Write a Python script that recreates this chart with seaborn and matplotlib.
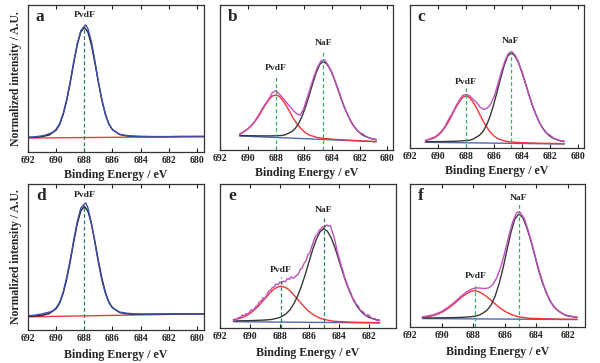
import matplotlib
matplotlib.use("Agg")
import matplotlib.pyplot as plt
import seaborn as sns

# ---------------- data (y in axes-height fraction) ----------------
TICKS = [692, 690, 688, 686, 684, 682, 680]

# panel a
A_FIT_X = [692, 691.5, 691, 690.5, 690, 689.75, 689.5, 689.25, 689, 688.75, 688.5, 688.25, 688,
           687.75, 687.5, 687.25, 687, 686.75, 686.5, 686.25, 686, 685.5, 685, 684.5, 684, 683,
           682, 681, 680, 679.5]
A_FIT_Y = [0.099, 0.100, 0.105, 0.115, 0.149, 0.187, 0.255, 0.351, 0.472, 0.606, 0.729, 0.817,
           0.848, 0.817, 0.730, 0.607, 0.474, 0.353, 0.257, 0.190, 0.152, 0.119, 0.110, 0.106,
           0.105, 0.104, 0.104, 0.105, 0.105, 0.105]
A_RAW_X = [692, 691.5, 691, 690.75, 690.5, 690.25, 690, 689.75, 689.5, 689.25, 689, 688.75, 688.5,
           688.25, 688, 687.9, 687.75, 687.5, 687.25, 687, 686.75, 686.5, 686.25, 686, 685.5, 685,
           684.5, 684, 683, 682, 681, 680, 679.5]
A_RAW_Y = [0.100, 0.103, 0.110, 0.115, 0.125, 0.133, 0.155, 0.192, 0.262, 0.358, 0.480, 0.615,
           0.738, 0.825, 0.855, 0.865, 0.840, 0.752, 0.620, 0.478, 0.350, 0.252, 0.186, 0.152,
           0.121, 0.112, 0.108, 0.106, 0.105, 0.105, 0.106, 0.106, 0.106]
A_BASE_X = [692, 679.5]
A_BASE_Y = [0.095, 0.105]

# panel d
D_FIT_X = A_FIT_X
D_FIT_Y = [0.094, 0.096, 0.101, 0.112, 0.146, 0.184, 0.252, 0.349, 0.470, 0.604, 0.727, 0.815,
           0.847, 0.816, 0.729, 0.607, 0.474, 0.353, 0.257, 0.190, 0.153, 0.120, 0.111, 0.108,
           0.108, 0.108, 0.109, 0.111, 0.111, 0.111]
D_RAW_X = A_RAW_X
D_RAW_Y = [0.097, 0.102, 0.110, 0.117, 0.122, 0.130, 0.152, 0.190, 0.260, 0.360, 0.480, 0.618,
           0.742, 0.835, 0.862, 0.870, 0.838, 0.735, 0.598, 0.460, 0.340, 0.250, 0.186, 0.152,
           0.123, 0.115, 0.111, 0.109, 0.109, 0.110, 0.111, 0.111, 0.111]
D_BASE_X = [692, 679.5]
D_BASE_Y = [0.090, 0.111]

# panel b
B_RED_X = [690.6, 690.25, 690, 689.75, 689.5, 689.25, 689, 688.75, 688.5, 688.25, 688, 687.75,
           687.5, 687.25, 687, 686.75, 686.5, 686.25, 686, 685.75, 685.5, 685, 684.5, 684, 683,
           682, 681, 680.8]
B_RED_Y = [0.110, 0.130, 0.145, 0.167, 0.195, 0.230, 0.271, 0.311, 0.346, 0.372, 0.380, 0.370,
           0.342, 0.306, 0.263, 0.219, 0.183, 0.153, 0.129, 0.111, 0.100, 0.085, 0.079, 0.075,
           0.069, 0.064, 0.059, 0.058]
B_BLK_X = [690.6, 689.6, 688.6, 688.1, 687.6, 687.35, 687.1, 686.85, 686.6, 686.35, 686.1, 685.85,
           685.6, 685.35, 685.1, 684.85, 684.6, 684.35, 684.1, 683.85, 683.6, 683.35, 683.1,
           682.85, 682.6, 682.35, 682.1, 681.85, 681.6, 681.1, 680.8]
B_BLK_Y = [0.100, 0.098, 0.097, 0.098, 0.100, 0.104, 0.115, 0.127, 0.150, 0.185, 0.237, 0.303,
           0.380, 0.460, 0.534, 0.591, 0.610, 0.594, 0.557, 0.500, 0.432, 0.363, 0.297, 0.243,
           0.193, 0.156, 0.128, 0.108, 0.094, 0.077, 0.071]
B_RAW_X = [690.6, 690.5, 690.25, 690, 689.75, 689.5, 689.25, 689, 688.75, 688.5, 688.25, 688,
           687.75, 687.5, 687.25, 687, 686.75, 686.5, 686.25, 686, 685.75, 685.5, 685.25, 685,
           684.75, 684.5, 684.25, 684, 683.75, 683.5, 683.25, 683, 682.75, 682.5, 682.25, 682,
           681.75, 681.5, 681.25, 681, 680.8]
B_RAW_Y = [0.105, 0.112, 0.128, 0.148, 0.170, 0.200, 0.238, 0.280, 0.318, 0.352, 0.395, 0.410,
           0.385, 0.360, 0.330, 0.300, 0.273, 0.250, 0.240, 0.285, 0.360, 0.437, 0.511, 0.574,
           0.615, 0.622, 0.585, 0.540, 0.476, 0.411, 0.339, 0.276, 0.223, 0.179, 0.145, 0.120,
           0.110, 0.091, 0.082, 0.076, 0.072]
B_BASE_X = [690.6, 680.8]
B_BASE_Y = [0.097, 0.057]

# panel c
C_RED_X = [690.9, 690.5, 690.25, 690, 689.75, 689.5, 689.25, 689, 688.75, 688.5, 688.25, 688,
           687.75, 687.5, 687.25, 687, 686.75, 686.5, 686.25, 686, 685.75, 685.5, 685.25, 685,
           684.5, 684, 683, 682, 681]
C_RED_Y = [0.053, 0.063, 0.071, 0.088, 0.112, 0.145, 0.184, 0.232, 0.280, 0.321, 0.354, 0.365,
           0.353, 0.320, 0.279, 0.229, 0.181, 0.142, 0.107, 0.083, 0.066, 0.057, 0.049, 0.044,
           0.040, 0.037, 0.034, 0.032, 0.030]
C_BLK_X = [690.9, 689.8, 688.8, 688.3, 687.8, 687.55, 687.3, 687.05, 686.8, 686.55, 686.3, 686.05,
           685.8, 685.55, 685.3, 685.05, 684.8, 684.55, 684.3, 684.05, 683.8, 683.55, 683.3,
           683.05, 682.8, 682.55, 682.3, 682.05, 681.8, 681.3, 681.0]
C_BLK_Y = [0.044, 0.045, 0.047, 0.050, 0.054, 0.060, 0.074, 0.089, 0.116, 0.158, 0.220, 0.299,
           0.391, 0.486, 0.573, 0.641, 0.665, 0.647, 0.604, 0.537, 0.459, 0.379, 0.302, 0.239,
           0.182, 0.139, 0.107, 0.084, 0.068, 0.050, 0.045]
C_RAW_X = [690.9, 690.5, 690.25, 690, 689.75, 689.5, 689.25, 689, 688.75, 688.5, 688.25, 688,
           687.75, 687.5, 687.25, 687, 686.75, 686.5, 686.25, 686, 685.75, 685.5, 685.25, 685,
           684.75, 684.5, 684.25, 684, 683.75, 683.5, 683.25, 683, 682.75, 682.5, 682.25, 682,
           681.75, 681.5, 681.25, 681]
C_RAW_Y = [0.050, 0.068, 0.076, 0.094, 0.118, 0.152, 0.200, 0.240, 0.289, 0.332, 0.367, 0.375,
           0.365, 0.340, 0.318, 0.286, 0.270, 0.278, 0.306, 0.361, 0.442, 0.529, 0.605, 0.660,
           0.675, 0.647, 0.595, 0.530, 0.448, 0.368, 0.294, 0.230, 0.173, 0.134, 0.104, 0.088,
           0.068, 0.058, 0.051, 0.047]
C_BASE_X = [690.9, 681.0]
C_BASE_Y = [0.040, 0.028]

# panel e
E_RED_X = [691.1, 690.9, 690.65, 690.4, 690.15, 689.9, 689.65, 689.4, 689.15, 688.9, 688.65, 688.4,
           688.15, 687.9, 687.65, 687.4, 687.15, 686.9, 686.65, 686.4, 686.15, 685.9, 685.65,
           685.4, 685.15, 684.9, 684.4, 683.9, 682.9, 681.9, 681.3]
E_RED_Y = [0.059, 0.062, 0.068, 0.078, 0.090, 0.108, 0.130, 0.155, 0.185, 0.214, 0.244, 0.269,
           0.284, 0.290, 0.283, 0.268, 0.242, 0.212, 0.182, 0.153, 0.126, 0.104, 0.086, 0.073,
           0.063, 0.057, 0.047, 0.044, 0.040, 0.038, 0.037]
E_BLK_X = [691.1, 690.05, 689.05, 688.55, 688.05, 687.8, 687.55, 687.3, 687.05, 686.8, 686.55,
           686.3, 686.05, 685.8, 685.55, 685.3, 685.05, 684.8, 684.55, 684.3, 684.05, 683.8,
           683.55, 683.3, 683.05, 682.8, 682.55, 682.3, 682.05, 681.55, 681.3]
E_BLK_Y = [0.049, 0.051, 0.055, 0.059, 0.071, 0.083, 0.100, 0.128, 0.168, 0.221, 0.288, 0.366,
           0.454, 0.540, 0.613, 0.667, 0.691, 0.672, 0.628, 0.560, 0.479, 0.396, 0.317, 0.252,
           0.193, 0.149, 0.116, 0.093, 0.076, 0.058, 0.054]
E_RAW_X = [691.1, 690.9, 690.75, 690.6, 690.5, 690.35, 690.25, 690.1, 690, 689.85, 689.75, 689.6,
           689.5, 689.35, 689.25, 689.1, 689, 688.85, 688.75, 688.6, 688.5, 688.35, 688.25, 688.1,
           688, 687.85, 687.75, 687.6, 687.5, 687.35, 687.25, 687.1, 687, 686.85, 686.75, 686.6,
           686.5, 686.35, 686.25, 686.1, 686, 685.85, 685.75, 685.6, 685.5, 685.35, 685.25, 685.1,
           685, 684.85, 684.75, 684.6, 684.5, 684.35, 684.25, 684.1, 684, 683.85, 683.75, 683.6,
           683.5, 683.35, 683.25, 683.1, 683, 682.85, 682.75, 682.6, 682.5, 682.35, 682.25, 682.1,
           682, 681.85, 681.75, 681.6, 681.5, 681.3]
E_RAW_Y = [0.050, 0.058, 0.072, 0.076, 0.090, 0.084, 0.100, 0.098, 0.115, 0.128, 0.122, 0.148,
           0.155, 0.182, 0.186, 0.210, 0.205, 0.232, 0.255, 0.262, 0.280, 0.286, 0.305, 0.300,
           0.318, 0.312, 0.325, 0.322, 0.342, 0.338, 0.355, 0.345, 0.352, 0.366, 0.375, 0.410,
           0.415, 0.452, 0.464, 0.510, 0.518, 0.565, 0.595, 0.638, 0.647, 0.680, 0.686, 0.705,
           0.698, 0.716, 0.708, 0.712, 0.676, 0.632, 0.585, 0.516, 0.482, 0.425, 0.394, 0.336,
           0.312, 0.270, 0.248, 0.206, 0.192, 0.162, 0.156, 0.124, 0.118, 0.108, 0.084, 0.092,
           0.088, 0.068, 0.062, 0.066, 0.052, 0.050]
E_BASE_X = [691.1, 681.3]
E_BASE_Y = [0.044, 0.035]

# panel f
F_RED_X = [691.2, 690.9, 690.65, 690.4, 690.15, 689.9, 689.65, 689.4, 689.15, 688.9, 688.65, 688.4,
           688.15, 687.9, 687.65, 687.4, 687.15, 686.9, 686.65, 686.4, 686.15, 685.9, 685.65,
           685.4, 685.15, 684.9, 684.4, 683.9, 682.9, 681.9, 681.4]
F_RED_Y = [0.068, 0.072, 0.076, 0.084, 0.094, 0.107, 0.125, 0.145, 0.168, 0.192, 0.215, 0.234,
           0.249, 0.254, 0.248, 0.233, 0.214, 0.191, 0.166, 0.143, 0.122, 0.105, 0.091, 0.081,
           0.072, 0.068, 0.061, 0.059, 0.056, 0.054, 0.054]
F_BLK_X = [691.2, 690.1, 689.1, 688.6, 688.1, 687.85, 687.6, 687.35, 687.1, 686.85, 686.6, 686.35,
           686.1, 685.85, 685.6, 685.35, 685.1, 684.85, 684.6, 684.35, 684.1, 683.85, 683.6,
           683.35, 683.1, 682.85, 682.6, 682.35, 682.1, 681.6, 681.4]
F_BLK_Y = [0.063, 0.064, 0.066, 0.068, 0.072, 0.076, 0.084, 0.099, 0.119, 0.155, 0.216, 0.302,
           0.411, 0.538, 0.661, 0.755, 0.790, 0.766, 0.697, 0.609, 0.506, 0.399, 0.311, 0.237,
           0.179, 0.139, 0.113, 0.095, 0.080, 0.070, 0.067]
F_RAW_X = [691.25, 691, 690.5, 690, 689.5, 689.25, 689, 688.75, 688.5, 688.25, 688, 687.75, 687.5,
           687.25, 687, 686.75, 686.5, 686.25, 686, 685.75, 685.5, 685.25, 685.1, 685, 684.75,
           684.5, 684.25, 684, 683.75, 683.5, 683.25, 683, 682.75, 682.5, 682.25, 682, 681.75,
           681.5, 681.4]
F_RAW_Y = [0.070, 0.075, 0.086, 0.108, 0.145, 0.167, 0.191, 0.216, 0.238, 0.257, 0.269, 0.274,
           0.271, 0.269, 0.274, 0.297, 0.343, 0.417, 0.516, 0.629, 0.730, 0.798, 0.806, 0.801,
           0.758, 0.675, 0.576, 0.471, 0.370, 0.286, 0.217, 0.163, 0.128, 0.106, 0.090, 0.080,
           0.075, 0.070, 0.069]
F_BASE_X = [691.2, 681.4]
F_BASE_Y = [0.059, 0.052]

# peak markers: (label, position, dash top, text bottom)
A_PEAKS = [("PvdF", 688.0, 0.837, 0.905)]
B_PEAKS = [("PvdF", 688.0, 0.503, 0.538), ("NaF", 684.6, 0.690, 0.710)]
C_PEAKS = [("PvdF", 688.0, 0.427, 0.434), ("NaF", 684.8, 0.700, 0.720)]
D_PEAKS = [("PvdF", 688.0, 0.856, 0.900)]
E_PEAKS = [("PvdF", 687.9, 0.354, 0.375), ("NaF", 685.05, 0.770, 0.790)]
F_PEAKS = [("PvdF", 687.85, 0.308, 0.330), ("NaF", 685.1, 0.860, 0.874)]

# ---------------- style ----------------
sns.set_style("ticks")
plt.rcParams["font.family"] = ["Liberation Serif", "DejaVu Serif"]
plt.rcParams["font.weight"] = "bold"

RAW_BLUE = "#3a4fb0"
FIT_BLACK = "#222222"
BASE_RED = "#ec3b44"
RAW_MAG = "#c04fc0"
COMP_RED = "#f03535"
COMP_BLK = "#383838"
BASE_BLUE = "#5068b8"
DASH_DARK = "#2e7f5c"
DASH_GREEN = "#35b06c"

fig = plt.figure(figsize=(6.0, 3.63), dpi=100)
W, H = 600.0, 363.0


def make_ax(left, right, top, bottom):
    return fig.add_axes([left / W, 1 - bottom / H, (right - left) / W, (bottom - top) / H])


def line(ax, xs, ys, color, lw=1.0):
    sns.lineplot(x=xs, y=ys, ax=ax, color=color, lw=lw, sort=False, estimator=None)


def dress(ax, letter, xlim, peaks, dash_color, ylabel=False, lpad=4):
    ax.set_xlim(*xlim)
    ax.set_ylim(0, 1)
    ax.set_xticks([t for t in TICKS if min(xlim) <= t <= max(xlim)])
    ax.set_xticklabels([str(t) for t in TICKS if min(xlim) <= t <= max(xlim)])
    ax.set_yticks([])
    ax.tick_params(axis="x", direction="in", top=True, length=3, width=0.8,
                   labelsize=7, pad=3, colors="#222222")
    for lab in ax.get_xticklabels():
        lab.set_fontweight("bold")
    for s in ax.spines.values():
        s.set_visible(True)
        s.set_linewidth(0.9)
        s.set_color("#333333")
    ax.set_xlabel("Binding Energy / eV", fontsize=8.6, fontweight="bold", labelpad=lpad)
    if ylabel:
        ax.set_ylabel("Normalized intensity / A.U.", fontsize=8.4, fontweight="bold")
        ax.yaxis.set_label_coords(-0.034, 0.5)
    else:
        ax.set_ylabel("")
    ax.text(0.045, 0.975, letter, transform=ax.transAxes, fontsize=12.5,
            fontweight="bold", ha="left", va="top")
    for name, pos, dtop, tbot in peaks:
        ax.plot([pos, pos], [0, dtop], color=dash_color, lw=0.9, ls=(0, (3, 2)))
        ax.text(pos, tbot, name, fontsize=6.8, fontweight="bold", ha="center", va="bottom")


# a
ax = make_ax(28, 204, 5, 152)
line(ax, A_BASE_X, A_BASE_Y, BASE_RED)
line(ax, A_FIT_X, A_FIT_Y, FIT_BLACK)
line(ax, A_RAW_X, A_RAW_Y, RAW_BLUE)
dress(ax, "a", (692, 679.5), A_PEAKS, DASH_DARK, ylabel=True, lpad=2.5)

# b
ax = make_ax(220, 393, 5, 150)
line(ax, B_BASE_X, B_BASE_Y, BASE_BLUE)
line(ax, B_RED_X, B_RED_Y, COMP_RED)
line(ax, B_BLK_X, B_BLK_Y, COMP_BLK)
line(ax, B_RAW_X, B_RAW_Y, RAW_MAG)
dress(ax, "b", (692, 679.6), B_PEAKS, DASH_GREEN, lpad=2.5)

# c
ax = make_ax(410, 584, 5, 148)
line(ax, C_BASE_X, C_BASE_Y, BASE_BLUE)
line(ax, C_RED_X, C_RED_Y, COMP_RED)
line(ax, C_BLK_X, C_BLK_Y, COMP_BLK)
line(ax, C_RAW_X, C_RAW_Y, RAW_MAG)
dress(ax, "c", (692, 679.6), C_PEAKS, DASH_GREEN, lpad=2.5)

# d
ax = make_ax(28, 204, 184, 330)
line(ax, D_BASE_X, D_BASE_Y, BASE_RED)
line(ax, D_FIT_X, D_FIT_Y, FIT_BLACK)
line(ax, D_RAW_X, D_RAW_Y, RAW_BLUE)
dress(ax, "d", (692, 679.5), D_PEAKS, DASH_DARK, ylabel=True)

# e
ax = make_ax(220, 396, 184, 328)
line(ax, E_BASE_X, E_BASE_Y, BASE_BLUE)
line(ax, E_RED_X, E_RED_Y, COMP_RED)
line(ax, E_BLK_X, E_BLK_Y, COMP_BLK)
line(ax, E_RAW_X, E_RAW_Y, RAW_MAG)
dress(ax, "e", (692, 680.2), E_PEAKS, DASH_DARK)

# f
ax = make_ax(410, 585, 184, 327)
line(ax, F_BASE_X, F_BASE_Y, BASE_BLUE)
line(ax, F_RED_X, F_RED_Y, COMP_RED)
line(ax, F_BLK_X, F_BLK_Y, COMP_BLK)
line(ax, F_RAW_X, F_RAW_Y, RAW_MAG)
dress(ax, "f", (692, 680.9), F_PEAKS, DASH_GREEN)

fig.savefig("out.png", dpi=100, facecolor="white")
